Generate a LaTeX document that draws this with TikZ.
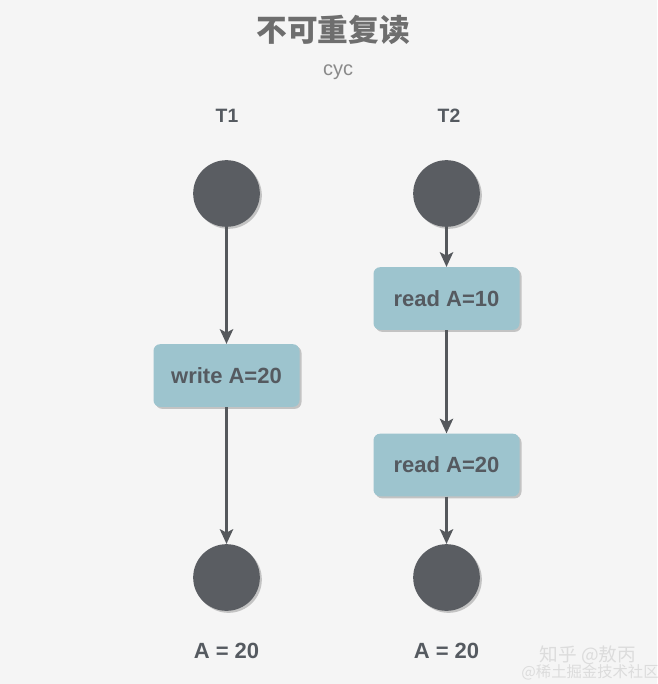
\documentclass[tikz,border=0pt]{standalone}
\usepackage{fontspec}
\setmainfont{Liberation Sans}
\newfontfamily\cjk{Noto Sans CJK SC}
\usetikzlibrary{arrows.meta,shadows}
\definecolor{bgc}{HTML}{F5F5F5}
\definecolor{titlec}{HTML}{6E6E6E}
\definecolor{subc}{HTML}{8A8A8A}
\definecolor{darkc}{HTML}{5A5D62}
\definecolor{boxc}{HTML}{9DC4CE}
\definecolor{txtc}{HTML}{555A60}
\definecolor{arrc}{HTML}{55585C}
\definecolor{wmc}{HTML}{DCDCDC}
\begin{document}
\begin{tikzpicture}[x=0.75pt,y=-0.75pt,
  shd/.style={drop shadow={shadow xshift=1.5pt,shadow yshift=-1.5pt,opacity=0.35,fill=black!60}},
  statenode/.style={circle,fill=darkc,draw=none,minimum size=50pt,inner sep=0pt,shd},
  actbox/.style={rectangle,rounded corners=5pt,fill=boxc,draw=none,minimum width=109.5pt,minimum height=47pt,
     font=\fontsize{16.5}{19}\selectfont\bfseries,text=txtc,shd},
  arr/.style={draw=arrc,line width=1.8pt,-{Stealth[length=11pt,width=10pt,inset=2.5pt]}},
  lbl/.style={font=\fontsize{14.5}{17}\selectfont\bfseries,text=txtc},
  res/.style={font=\fontsize{16.5}{19}\selectfont\bfseries,text=txtc},
  wm/.style={text=wmc}]
\fill[bgc] (0,0) rectangle (657,684);
\useasboundingbox (0,0) rectangle (657,684);
\node[font=\cjk\fontsize{23}{26}\selectfont\bfseries,text=titlec] (title) at (333,30) {不可重复读};
\node[font=\fontsize{15}{18}\selectfont,text=subc] (sub) at (338,72) {cyc};
\node[lbl] (t1) at (227,116) {T1};
\node[lbl] (t2) at (449,116) {T2};
\node[statenode] (s1) at (226.5,193.5) {};
\node[statenode] (s2) at (446.5,193.5) {};
\node[actbox] (w) at (226.5,375.5) {write A=20};
\node[actbox] (r1) at (446.5,298.5) {read A=10};
\node[actbox] (r2) at (446.5,465) {read A=20};
\node[statenode] (e1) at (226.5,577.5) {};
\node[statenode] (e2) at (446.5,577.5) {};
\node[res] (a1) at (226.5,651) {A = 20};
\node[res] (a2) at (446.5,651) {A = 20};
\draw[arr] (s1.south) -- (w.north);
\draw[arr] (w.south) -- (e1.north);
\draw[arr] (s2.south) -- (r1.north);
\draw[arr] (r1.south) -- (r2.north);
\draw[arr] (r2.south) -- (e2.north);
\node[wm,font=\cjk\fontsize{14}{16}\selectfont] (wm1) at (588,655) {知乎 @敖丙};
\node[wm,font=\cjk\fontsize{11.5}{13}\selectfont] (wm2) at (590,672) {@稀土掘金技术社区};
\end{tikzpicture}
\end{document}
